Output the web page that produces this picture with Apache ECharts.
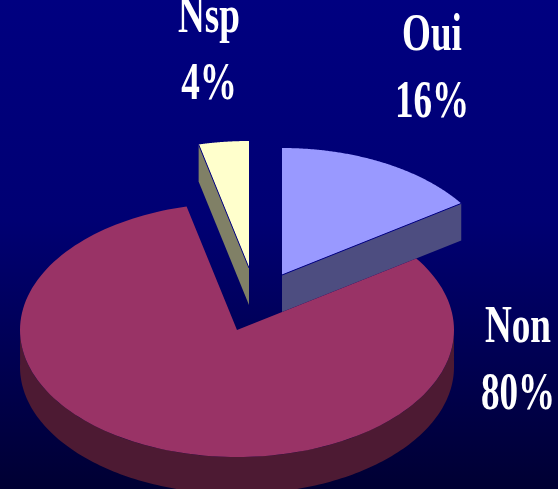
<!DOCTYPE html>
<html>
<head>
<meta charset="utf-8">
<style>html,body{margin:0;padding:0;background:#000080}#c{width:558px;height:489px}</style>
<script src="https://cdn.jsdelivr.net/npm/echarts@6/dist/echarts.min.js"></script>
</head>
<body>
<div id="c"></div>
<script>
const categories = ['Oui', 'Non', 'Nsp'];
const shares = [16, 80, 4];

// Drawing constants (kept apart from the data)
const topColors = ['#9999ff', '#993366', '#ffffcc'];
const sideColors = ['#4d4d80', '#4d1a33', '#808066'];
const apex = [[282, 275], [237, 330], [249, 268]];
const labelAnchor = [[432, 63], [518, 355], [209, 45]];
const RX = 217, RY = 127, DEPTH = 37, FORESHORTEN = 0.93, LINE_GAP = 67;

const chart = echarts.init(document.getElementById('c'), null, { renderer: 'canvas' });
const total = shares.reduce((a, b) => a + b, 0);

// true pie angle (0 at 12 o'clock, clockwise) -> ellipse parameter
function warp(t) { return Math.atan2(FORESHORTEN * Math.sin(t), Math.cos(t)); }
function rim(c, t, dy) {
  const u = warp(t);
  return [c[0] + RX * Math.sin(u), c[1] - RY * Math.cos(u) + (dy || 0)];
}
function arc(c, a, b, dy) {
  const out = [], n = 160;
  for (let i = 0; i <= n; i++) out.push(rim(c, a + (b - a) * i / n, dy));
  return out;
}

function renderItem(params, api) {
  const i = params.dataIndex;
  const v = api.value(0);
  let before = 0;
  for (let k = 0; k < i; k++) before += shares[k];
  const a = before / total * 2 * Math.PI;
  const b = (before + v) / total * 2 * Math.PI;
  const c = apex[i];
  const children = [];
  const z = i === 1 ? 10 : 1;

  // side walls
  if (i === 0) {          // cut face along the end radius
    const p = rim(c, b);
    children.push({ type: 'polygon', z2: z,
      shape: { points: [c, p, [p[0], p[1] + DEPTH], [c[0], c[1] + DEPTH]] },
      style: { fill: sideColors[i] } });
  } else if (i === 2) {   // cut face along the start radius
    const p = rim(c, a);
    children.push({ type: 'polygon', z2: z,
      shape: { points: [c, p, [p[0], p[1] + DEPTH], [c[0], c[1] + DEPTH]] },
      style: { fill: sideColors[i] } });
  } else {                // outer wall facing the viewer
    const p = Math.PI / 2 * 0.99, q = Math.PI * 1.5 * 1.005;
    const t = arc(c, p, q, 0), u = arc(c, p, q, DEPTH).reverse();
    children.push({ type: 'polygon', z2: z,
      shape: { points: t.concat(u) }, style: { fill: sideColors[i] } });
  }

  // top surface
  children.push({ type: 'polygon', z2: z + 1,
    shape: { points: [c].concat(arc(c, a, b, 0)) },
    style: { fill: topColors[i] } });

  // thin dark seam between top and cut face
  if (i !== 1) {
    const p = rim(c, i === 0 ? b : a);
    children.push({ type: 'line', z2: z + 2,
      shape: { x1: c[0], y1: c[1], x2: p[0], y2: p[1] },
      style: { stroke: '#000080', lineWidth: 1 } });
  }

  // labels: condensed bold serif, two lines
  const l = labelAnchor[i];
  [api.value(1), v + '%'].forEach(function (txt, k) {
    children.push({
      type: 'text', z2: 30,
      x: l[0], y: l[1] + k * LINE_GAP, scaleX: 0.7, scaleY: 1,
      style: { text: String(txt), fill: '#ffffff',
        font: 'bold 53px "Liberation Serif", "Times New Roman", serif',
        textAlign: 'center', textVerticalAlign: 'bottom', textBaseline: 'alphabetic' }
    });
  });

  return { type: 'group', children: children };
}

chart.setOption({
  animation: false,
  backgroundColor: {
    type: 'linear', x: 0, y: 0, x2: 0, y2: 1,
    colorStops: [{ offset: 0, color: '#000080' }, { offset: 0.45, color: '#000073' }, { offset: 1, color: '#000033' }]
  },
  series: [{
    type: 'custom',
    coordinateSystem: 'none',
    silent: true,
    clip: false,
    renderItem: renderItem,
    encode: { value: 0, itemName: 1 },
    data: shares.map((v, i) => [v, categories[i]]),
    dimensions: [{ name: 'share', type: 'number' }, { name: 'category', type: 'ordinal' }]
  }]
});
</script>
</body>
</html>
